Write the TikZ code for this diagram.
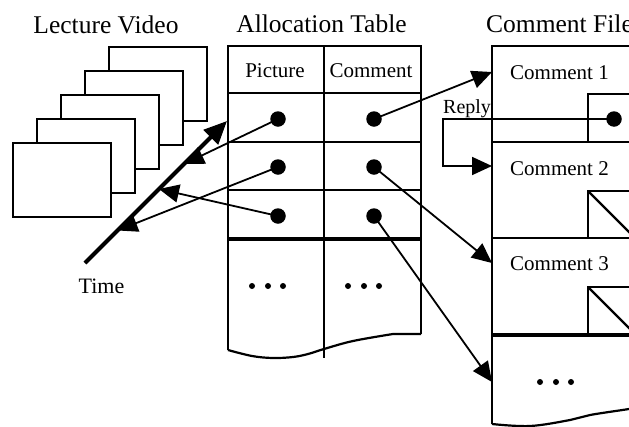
\documentclass[tikz,border=0pt]{standalone}
\usepackage{fontspec}
\setmainfont{Liberation Serif}
\usetikzlibrary{arrows.meta,calc}
\begin{document}
\begin{tikzpicture}[x=1pt,y=-1pt,
  ln/.style={line width=2.2pt},
  heavy/.style={line width=3.8pt},
  frame/.style={draw, line width=2.2pt, fill=white, minimum width=98pt, minimum height=74.5pt, anchor=north west, inner sep=0pt},
  dot/.style={circle, fill=black, inner sep=0pt, minimum size=15.5pt},
  sdot/.style={circle, fill=black, inner sep=0pt, minimum size=6pt},
  arr/.style={line width=1.8pt, -{Triangle[length=20pt,width=18pt]}},
  title/.style={font=\fontsize{25.5}{30}\selectfont, inner sep=0pt},
  lbl/.style={font=\fontsize{21}{25}\selectfont, inner sep=0pt},
]
\clip (0,0) rectangle (629,426);

% titles
\node[title, anchor=base] (tLV) at (106,33) {Lecture Video};
\node[title, anchor=base] (tAT) at (321.5,32) {Allocation Table};
\node[title, anchor=base west] (tCF) at (486,32) {Comment File};

% video frames
\node[frame] (f5) at (107.7,45.7) {};
\node[frame] (f4) at (83.7,69.7) {};
\node[frame] (f3) at (59.7,93.7) {};
\node[frame] (f2) at (35.7,117.7) {};
\node[frame] (f1) at (11.7,141.7) {};

% time axis
\coordinate (tA) at (85,263);
\coordinate (tB) at (227,121);
\draw[line width=4pt, -{Triangle[length=23pt,width=20pt]}] (tA) -- (tB);
\coordinate (t1) at ($(tA)!0.697!(tB)$);
\coordinate (t2) at ($(tA)!0.229!(tB)$);
\coordinate (t3) at ($(tA)!0.521!(tB)$);
\node[font=\fontsize{22}{26}\selectfont, inner sep=0pt, anchor=base] (time) at (101.5,293) {Time};

% allocation table
\draw[ln] (228,350) -- (228,46) -- (421,46) -- (421,334);
\draw[ln] (228,93) -- (421,93);
\draw[ln] (228,142) -- (421,142);
\draw[ln] (228,190) -- (421,190);
\draw[heavy] (228,239) -- (421,239);
\draw[ln] (324,46) -- (324,358);
\draw[ln] plot[smooth, tension=0.6] coordinates {(228,350) (252,356) (273,358) (293,357) (308,354) (324,349) (353,341) (393,334)} -- (421,334);
\node[lbl, anchor=base] (hp) at (275,77) {Picture};
\node[lbl, anchor=base] (hc) at (371,77) {Comment};

\node[dot] (p1) at (278,119) {};
\node[dot] (p2) at (278,167) {};
\node[dot] (p3) at (278,216) {};
\node[dot] (c1) at (374,119) {};
\node[dot] (c2) at (374,167) {};
\node[dot] (c3) at (374,216) {};

\node[sdot] (e1) at (252,286) {};
\node[sdot] (e2) at (268,286) {};
\node[sdot] (e3) at (283,286) {};
\node[sdot] (e4) at (348,286) {};
\node[sdot] (e5) at (364,286) {};
\node[sdot] (e6) at (379,286) {};

% comment file
\draw[ln] (492,424) -- (492,46) -- (640,46);
\draw[ln] (492,142) -- (640,142);
\draw[ln] (492,238) -- (640,238);
\draw[line width=4pt] (492,335) -- (640,335);
\draw[ln] plot[smooth, tension=0.6] coordinates {(492,424) (530,426) (570,420) (590,415) (629,409) (640,407)};
\draw[ln] (588,142) -- (588,94) -- (640,94);
\draw[ln] (588,238) -- (588,191) -- (640,191);
\draw[ln] (588,191) -- (640,243);
\draw[ln] (588,335) -- (588,287) -- (640,287);
\draw[ln] (588,287) -- (640,339);
\node[lbl, anchor=base west] (cm1) at (510,79) {Comment 1};
\node[lbl, anchor=base west] (cm2) at (510,175) {Comment 2};
\node[lbl, anchor=base west] (cm3) at (510,270) {Comment 3};
\node[dot] (rd) at (614,119) {};
\node[sdot] (e7) at (540,382) {};
\node[sdot] (e8) at (556,382) {};
\node[sdot] (e9) at (571,382) {};
\node[font=\fontsize{20}{24}\selectfont, inner sep=0pt, anchor=base west] (reply) at (443,113) {Reply};

% targets
\coordinate (k1) at (492,72);
\coordinate (k2) at (492,263);
\coordinate (k3) at (492,382);
\coordinate (r1) at (443,119);
\coordinate (r2) at (443,166);
\coordinate (r3) at (492,166);

% connectors
\draw[arr] (p1.center) -- (t1);
\draw[arr] (p2.center) -- (t2);
\draw[arr] (p3.center) -- (t3);
\draw[arr] (c1.center) -- (k1);
\draw[arr] (c2.center) -- (k2);
\draw[arr] (c3.center) -- (k3);
\draw[arr] (rd.center) -- (r1) -- (r2) -- (r3);
\end{tikzpicture}
\end{document}
